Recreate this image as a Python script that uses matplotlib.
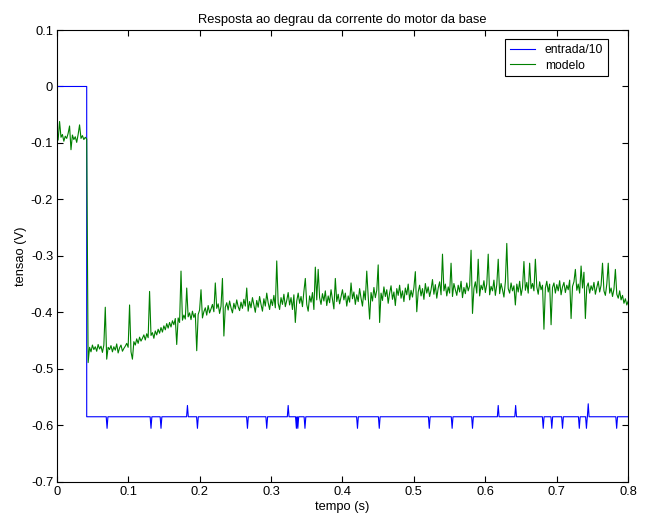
import numpy as np
import matplotlib
matplotlib.use("Agg")
import matplotlib.pyplot as plt
from matplotlib.ticker import FuncFormatter

plt.rcParams['font.family'] = ['Liberation Sans', 'DejaVu Sans']
plt.rcParams['axes.unicode_minus'] = False

# modelo: sampled every 2 ms from 0 to 0.8 s
dt = 0.002
modelo = [
    -0.088, -0.095, -0.062, -0.090, -0.085, -0.097, -0.088, -0.092, -0.083, -0.070,
    -0.112, -0.086, -0.094, -0.089, -0.099, -0.085, -0.068, -0.092, -0.087, -0.094,
    -0.090, -0.093, -0.489, -0.462, -0.470, -0.458, -0.466, -0.461, -0.469, -0.457,
    -0.465, -0.460, -0.471, -0.458, -0.391, -0.483, -0.462, -0.466, -0.459, -0.470,
    -0.461, -0.467, -0.456, -0.472, -0.463, -0.458, -0.469, -0.464, -0.460, -0.455,
    -0.462, -0.387, -0.470, -0.483, -0.452, -0.458, -0.447, -0.455, -0.444, -0.451,
    -0.446, -0.440, -0.449, -0.438, -0.445, -0.363, -0.441, -0.436, -0.446, -0.433,
    -0.440, -0.430, -0.437, -0.427, -0.435, -0.424, -0.431, -0.420, -0.428, -0.418,
    -0.426, -0.415, -0.422, -0.411, -0.457, -0.410, -0.418, -0.327, -0.414, -0.405,
    -0.412, -0.357, -0.408, -0.401, -0.413, -0.398, -0.409, -0.402, -0.468, -0.404,
    -0.396, -0.360, -0.410, -0.399, -0.392, -0.405, -0.388, -0.401, -0.394, -0.386,
    -0.399, -0.348, -0.393, -0.385, -0.402, -0.389, -0.340, -0.442, -0.391, -0.383,
    -0.396, -0.380, -0.392, -0.401, -0.384, -0.394, -0.378, -0.390, -0.397, -0.382,
    -0.393, -0.377, -0.389, -0.357, -0.398, -0.381, -0.392, -0.374, -0.387, -0.400,
    -0.379, -0.391, -0.372, -0.386, -0.398, -0.376, -0.389, -0.366, -0.383, -0.395,
    -0.377, -0.388, -0.370, -0.392, -0.309, -0.384, -0.395, -0.374, -0.386, -0.368,
    -0.390, -0.379, -0.365, -0.387, -0.374, -0.395, -0.369, -0.418, -0.380, -0.366,
    -0.384, -0.372, -0.390, -0.363, -0.340, -0.386, -0.398, -0.371, -0.382, -0.365,
    -0.395, -0.320, -0.378, -0.324, -0.374, -0.386, -0.367, -0.380, -0.362, -0.388,
    -0.371, -0.383, -0.360, -0.377, -0.394, -0.340, -0.381, -0.368, -0.385, -0.372,
    -0.360, -0.378, -0.366, -0.389, -0.371, -0.382, -0.348, -0.376, -0.364, -0.386,
    -0.369, -0.381, -0.358, -0.375, -0.389, -0.362, -0.378, -0.327, -0.372, -0.412,
    -0.365, -0.380, -0.356, -0.374, -0.361, -0.316, -0.418, -0.366, -0.379, -0.355,
    -0.372, -0.360, -0.384, -0.366, -0.353, -0.377, -0.364, -0.388, -0.358, -0.370,
    -0.352, -0.375, -0.362, -0.381, -0.357, -0.369, -0.350, -0.378, -0.361, -0.373,
    -0.356, -0.328, -0.399, -0.364, -0.352, -0.371, -0.358, -0.377, -0.349, -0.366,
    -0.355, -0.372, -0.360, -0.342, -0.368, -0.351, -0.375, -0.357, -0.346, -0.369,
    -0.297, -0.362, -0.350, -0.371, -0.355, -0.366, -0.313, -0.372, -0.349, -0.360,
    -0.370, -0.352, -0.364, -0.345, -0.374, -0.356, -0.367, -0.348, -0.362, -0.353,
    -0.290, -0.402, -0.358, -0.346, -0.366, -0.306, -0.371, -0.352, -0.360, -0.344,
    -0.365, -0.350, -0.297, -0.369, -0.354, -0.362, -0.343, -0.370, -0.351, -0.306,
    -0.367, -0.349, -0.360, -0.373, -0.346, -0.278, -0.358, -0.366, -0.348, -0.362,
    -0.353, -0.387, -0.350, -0.364, -0.345, -0.370, -0.356, -0.310, -0.361, -0.347,
    -0.366, -0.313, -0.358, -0.349, -0.362, -0.306, -0.355, -0.368, -0.346, -0.360,
    -0.352, -0.430, -0.357, -0.345, -0.364, -0.350, -0.422, -0.356, -0.348, -0.366,
    -0.351, -0.362, -0.344, -0.369, -0.355, -0.347, -0.365, -0.352, -0.360, -0.343,
    -0.411, -0.354, -0.346, -0.324, -0.361, -0.350, -0.366, -0.318, -0.357, -0.329,
    -0.411, -0.355, -0.348, -0.366, -0.353, -0.361, -0.347, -0.368, -0.356, -0.345,
    -0.364, -0.352, -0.313, -0.362, -0.370, -0.350, -0.313, -0.366, -0.357, -0.372,
    -0.359, -0.324, -0.368, -0.375, -0.362, -0.378, -0.370, -0.384, -0.376, -0.387,
    -0.380,
]
tempo = np.linspace(0, dt * (len(modelo) - 1), len(modelo))

# entrada/10: step at t_degrau, then a flat level with single-sample glitches
t_degrau = 0.042
nivel_antes = 0.0
nivel_depois = -0.585
glitch_baixo_t = [0.0705, 0.132, 0.146, 0.197, 0.267, 0.294, 0.3355, 0.3375, 0.3475,
                  0.421, 0.4515, 0.5215, 0.5535, 0.582, 0.681, 0.693, 0.708, 0.7315,
                  0.7415, 0.7838]
glitch_baixo_v = -0.6055
glitch_alto_t = [0.183, 0.324, 0.618, 0.6424, 0.744]
glitch_alto_v = [-0.565, -0.565, -0.565, -0.565, -0.562]

h = 0.0012
glitches = [(t, glitch_baixo_v) for t in glitch_baixo_t] + list(zip(glitch_alto_t, glitch_alto_v))
glitches.sort()
ent_t = [0.0, t_degrau, t_degrau]
ent_v = [nivel_antes, nivel_antes, nivel_depois]
for t, v in glitches:
    ent_t += [t - h, t, t + h]
    ent_v += [nivel_depois, v, nivel_depois]
ent_t.append(0.8)
ent_v.append(nivel_depois)

fig = plt.figure(figsize=(6.48, 5.15), dpi=100)
ax = fig.add_axes([0.0875, 0.0647, 0.882, 0.877])

ax.plot(ent_t, ent_v, color='#0000ff', lw=0.8, label='entrada/10')
ax.plot(tempo, modelo, color='#008000', lw=0.8, label='modelo')

ax.set_xlim(0, 0.8)
ax.set_ylim(-0.7, 0.1)
ax.set_xticks(np.arange(0, 0.81, 0.1))
ax.set_yticks(np.arange(-0.7, 0.11, 0.1))
fmt = FuncFormatter(lambda v, p: '%g' % (round(v, 2) + 0.0))
ax.xaxis.set_major_formatter(fmt)
ax.yaxis.set_major_formatter(fmt)
ax.tick_params(direction='in', top=True, right=True, length=4, width=0.8,
               labelsize=9.3)
ax.tick_params(axis='x', pad=3)
ax.tick_params(axis='y', pad=2.5)
for s in ax.spines.values():
    s.set_linewidth(0.8)

ax.set_title('Resposta ao degrau da corrente do motor da base', fontsize=9.3, pad=5)
ax.set_xlabel('tempo (s)', fontsize=9.3, labelpad=2)
ax.set_ylabel('tensao (V)', fontsize=9.3, labelpad=3)

leg = ax.legend(loc='upper right', bbox_to_anchor=(0.9645, 0.980), borderaxespad=0,
                fontsize=8.7, fancybox=False, framealpha=1, edgecolor='black',
                handlelength=2.1, handletextpad=0.8, labelspacing=0.3,
                borderpad=0.4)
leg.get_frame().set_linewidth(0.8)

fig.savefig('out.png', dpi=100)
